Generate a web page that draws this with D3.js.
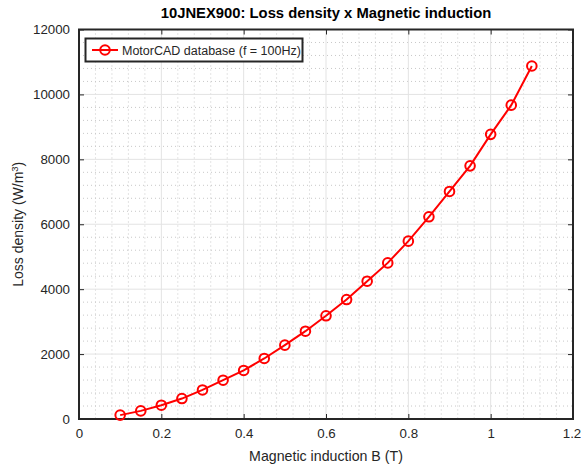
<!DOCTYPE html>
<html><head><meta charset="utf-8">
<script src="https://cdn.jsdelivr.net/npm/d3@7"></script>
<style>body{margin:0;background:#fff;}text{font-family:"Liberation Sans",Arial,sans-serif;}</style>
</head><body><svg id="c" width="581" height="468"></svg>
<script>
const induction = [0.1,0.15,0.2,0.25,0.3,0.35,0.4,0.45,0.5,0.55,0.6,0.65,0.7,0.75,0.8,0.85,0.9,0.95,1.0,1.05,1.1];
const lossDensity = [120,250,425,630,895,1195,1495,1865,2275,2705,3180,3680,4245,4810,5480,6230,7010,7800,8770,9670,10875];
const xTicks = [0,0.2,0.4,0.6,0.8,1,1.2];
const yTicks = [0,2000,4000,6000,8000,10000,12000];
const titleText = "10JNEX900: Loss density x Magnetic induction";
const legendText = "MotorCAD database (f = 100Hz)";

const svg = d3.select("#c");
const L=79, R=573, T=29.5, B=419;
const x = d3.scaleLinear().domain([0,1.2]).range([L,R]);
const y = d3.scaleLinear().domain([0,12000]).range([B,T]);
const g = svg.append("g");

// minor grid
const xMinor = d3.range(0,1.2001,0.04).filter(v=>Math.abs(Math.round(v/0.2)*0.2-v)>1e-6);
const yMinor = d3.range(0,12001,400).filter(v=>v%2000!==0);
g.selectAll(".xm").data(xMinor).join("line").attr("x1",d=>x(d)).attr("x2",d=>x(d)).attr("y1",T).attr("y2",B)
 .attr("stroke","#c8c8c8").attr("stroke-width",1).attr("stroke-dasharray","1,3");
g.selectAll(".ym").data(yMinor).join("line").attr("y1",d=>y(d)).attr("y2",d=>y(d)).attr("x1",L).attr("x2",R)
 .attr("stroke","#c8c8c8").attr("stroke-width",1).attr("stroke-dasharray","1,3");
// major grid
g.selectAll(".xg").data(xTicks).join("line").attr("x1",d=>x(d)).attr("x2",d=>x(d)).attr("y1",T).attr("y2",B)
 .attr("stroke","#e3e3e3").attr("stroke-width",1);
g.selectAll(".yg").data(yTicks).join("line").attr("y1",d=>y(d)).attr("y2",d=>y(d)).attr("x1",L).attr("x2",R)
 .attr("stroke","#e3e3e3").attr("stroke-width",1);

// axes with inward ticks
const fmtX = d=>d3.format("")(d);
const fmtY = d=>d3.format("d")(d);
svg.append("g").attr("transform",`translate(0,${B})`).call(d3.axisBottom(x).tickValues(xTicks).tickFormat(fmtX).tickSizeInner(-5).tickSizeOuter(0).tickPadding(10))
 .call(a=>{a.select(".domain").remove();a.selectAll("text").attr("font-size",13.3).attr("fill","#262626").attr("font-family","Liberation Sans, Arial, sans-serif").attr("dx",(d,i)=>i===xTicks.length-1?-1.5:0);a.selectAll("line").attr("stroke","#262626");});
svg.append("g").attr("transform",`translate(${L},0)`).call(d3.axisLeft(y).tickValues(yTicks).tickFormat(fmtY).tickSizeInner(-5).tickSizeOuter(0).tickPadding(9))
 .call(a=>{a.select(".domain").remove();a.selectAll("text").attr("font-size",13.3).attr("fill","#262626").attr("font-family","Liberation Sans, Arial, sans-serif");a.selectAll("line").attr("stroke","#262626");});
svg.append("g").attr("transform",`translate(0,${T})`).call(d3.axisTop(x).tickValues(xTicks).tickFormat("").tickSizeInner(-5).tickSizeOuter(0))
 .call(a=>{a.select(".domain").remove();a.selectAll("line").attr("stroke","#262626");});
svg.append("g").attr("transform",`translate(${R},0)`).call(d3.axisRight(y).tickValues(yTicks).tickFormat("").tickSizeInner(-5).tickSizeOuter(0))
 .call(a=>{a.select(".domain").remove();a.selectAll("line").attr("stroke","#262626");});

svg.append("rect").attr("x",L).attr("y",T).attr("width",R-L).attr("height",B-T)
 .attr("fill","none").attr("stroke","#262626").attr("stroke-width",2);

// data
const pts = induction.map((b,i)=>[b,lossDensity[i]]);
svg.append("path").datum(pts).attr("d",d3.line().x(d=>x(d[0])).y(d=>y(d[1])))
 .attr("fill","none").attr("stroke","#ff0000").attr("stroke-width",2);
svg.selectAll(".pt").data(pts).join("circle").attr("cx",d=>x(d[0])).attr("cy",d=>y(d[1])).attr("r",4.8)
 .attr("fill","none").attr("stroke","#ff0000").attr("stroke-width",2);

// legend
const lg = svg.append("g");
lg.append("rect").attr("x",85.5).attr("y",38.5).attr("width",217).attr("height",23).attr("fill","#fff").attr("stroke","#262626").attr("stroke-width",2);
lg.append("line").attr("x1",92).attr("x2",118).attr("y1",50).attr("y2",50).attr("stroke","#ff0000").attr("stroke-width",2);
lg.append("circle").attr("cx",105).attr("cy",50).attr("r",4.8).attr("fill","none").attr("stroke","#ff0000").attr("stroke-width",2);
lg.append("text").attr("x",122).attr("y",54.5).attr("font-size",12.5).attr("fill","#262626").text(legendText);

// labels
svg.append("text").attr("x",(L+R)/2).attr("y",18).attr("text-anchor","middle").attr("font-size",14.8).attr("font-weight","bold").attr("fill","#000").text(titleText);
svg.append("text").attr("x",(L+R)/2).attr("y",460.5).attr("text-anchor","middle").attr("font-size",14.2).attr("fill","#262626").text("Magnetic induction B (T)");
const yl = svg.append("text").attr("transform",`translate(23,${(T+B)/2}) rotate(-90)`).attr("text-anchor","middle").attr("font-size",14).attr("fill","#262626");
yl.append("tspan").text("Loss density (W/m");
yl.append("tspan").attr("dy",-5).attr("font-size",9.5).text("3");
yl.append("tspan").attr("dy",5).text(")");
</script></body></html>
